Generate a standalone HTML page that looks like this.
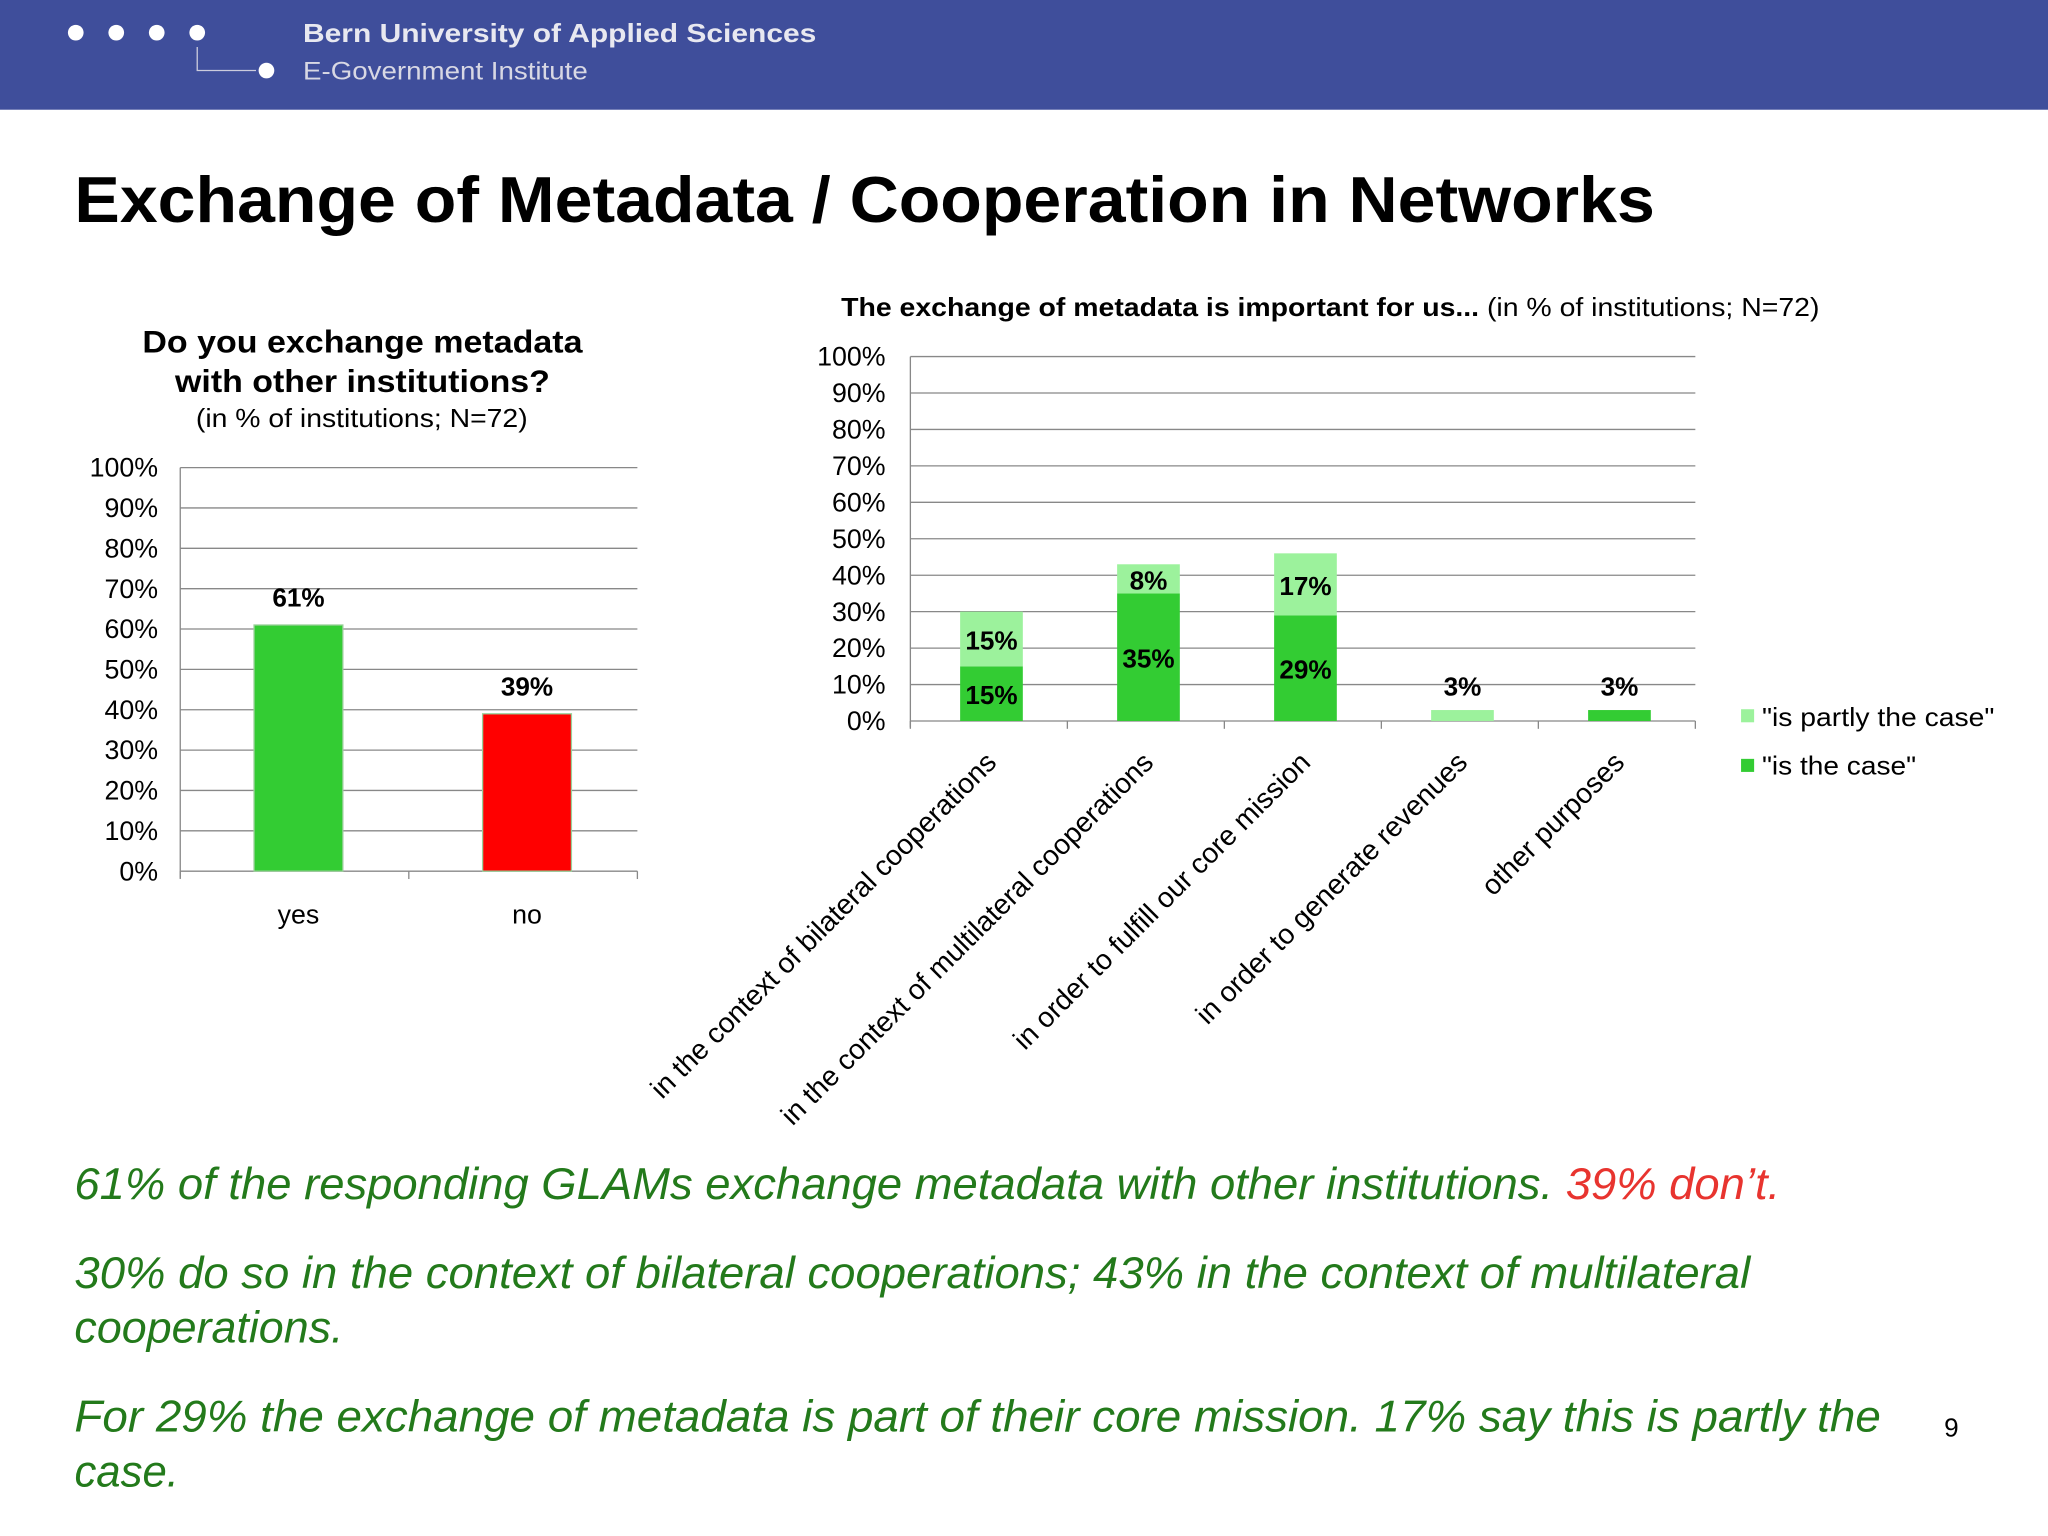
<!DOCTYPE html>
<html><head><meta charset="utf-8"><style>
html,body{margin:0;padding:0;background:#fff}
svg{display:block;font-family:"Liberation Sans",sans-serif}
</style></head><body>
<svg id="s" width="2048" height="1536" viewBox="0 0 1568 1176" xmlns="http://www.w3.org/2000/svg">
<rect x="0" y="0" width="1568" height="84" fill="#3f4e9b"/>
<g fill="#fff">
<circle cx="58" cy="25" r="6"/><circle cx="89" cy="25" r="6"/><circle cx="120" cy="25" r="6"/><circle cx="151" cy="25" r="6"/>
<circle cx="204" cy="54" r="6"/>
<path d="M151 36 V54 H196" stroke="#ccd" stroke-width="1" fill="none"/>
</g>
<text x="232" y="32" fill="#e8e8f0" font-size="20" font-weight="bold" textLength="393" lengthAdjust="spacingAndGlyphs">Bern University of Applied Sciences</text>
<text x="232" y="61" fill="#d8d8e4" font-size="19" textLength="218" lengthAdjust="spacingAndGlyphs">E-Government Institute</text>
<text x="57" y="170" font-size="50" font-weight="bold" fill="#000" textLength="1210" lengthAdjust="spacingAndGlyphs">Exchange of Metadata / Cooperation in Networks</text>

<g id="left">
<text x="109" y="270" font-size="24" font-weight="bold" textLength="337" lengthAdjust="spacingAndGlyphs">Do you exchange metadata</text>
<text x="134" y="300" font-size="24" font-weight="bold" textLength="287" lengthAdjust="spacingAndGlyphs">with other institutions?</text>
<text x="150" y="327" font-size="20" textLength="254" lengthAdjust="spacingAndGlyphs">(in % of institutions; N=72)</text>
</g>
<g id="right">
<text x="644" y="242" font-size="20" textLength="749" lengthAdjust="spacingAndGlyphs"><tspan font-weight="bold">The exchange of metadata is important for us...</tspan> (in % of institutions; N=72)</text>
<rect x="1333" y="543" width="10" height="10" fill="#9cf29c"/>
<text x="1349" y="556" font-size="20" textLength="178" lengthAdjust="spacingAndGlyphs">"is partly the case"</text>
<rect x="1333" y="581" width="10" height="10" fill="#33cc33"/>
<text x="1349" y="593" font-size="20" textLength="118" lengthAdjust="spacingAndGlyphs">"is the case"</text>
</g>

<g font-size="34" font-style="italic" fill="#237a1b">
<text x="57" y="918" textLength="1306" lengthAdjust="spacingAndGlyphs">61% of the responding GLAMs exchange metadata with other institutions. <tspan fill="#e8342f">39% don’t.</tspan></text>
<text x="57" y="986" textLength="1283" lengthAdjust="spacingAndGlyphs">30% do so in the context of bilateral cooperations; 43% in the context of multilateral</text>
<text x="57" y="1028" textLength="206" lengthAdjust="spacingAndGlyphs">cooperations.</text>
<text x="57" y="1096" textLength="1383" lengthAdjust="spacingAndGlyphs">For 29%  the exchange of metadata is part of their core mission. 17% say this is partly the</text>
<text x="57" y="1138" textLength="80" lengthAdjust="spacingAndGlyphs">case.</text>
</g>
<text x="1494" y="1100" text-anchor="middle" font-size="20">9</text>
</svg>
<script>
const NS="http://www.w3.org/2000/svg";
const leftCats=["yes","no"];
const leftVals=[61,39];
const leftColors=["#33cc33","#ff0000"];
const tickVals=[0,10,20,30,40,50,60,70,80,90,100];
const rightCats=["in the context of bilateral cooperations","in the context of multilateral cooperations","in order to fulfill our core mission","in order to generate revenues","other purposes"];
const rightIsCase=[15,35,29,0,3];
const rightPartly=[15,8,17,3,0];

function mk(parent,tag,attrs,text){const e=document.createElementNS(NS,tag);for(const k in attrs)e.setAttribute(k,attrs[k]);if(text!==undefined)e.textContent=text;parent.appendChild(e);return e;}

// left chart
const L=document.getElementById('left');
const ly=v=>667-v*3.09, lx0=138, lx1=488, lband=(lx1-lx0)/leftCats.length;
tickVals.forEach(t=>{
 const g=mk(L,'line',{x1:lx0,x2:lx1,y1:ly(t),y2:ly(t),stroke:'#888','stroke-width':1});
 
 
 const tx=mk(L,'text',{x:121,y:ly(t)+7,'text-anchor':'end','font-size':20.5},t+'%');
 
 
});
mk(L,'line',{x1:lx0,x2:lx0,y1:ly(100),y2:ly(0)+5,stroke:'#888'});
for(let i=0;i<=leftCats.length;i++)mk(L,'line',{x1:lx0+i*lband,x2:lx0+i*lband,y1:ly(0),y2:ly(0)+6,stroke:'#888'});
leftCats.forEach((c,i)=>{
 const cx=lx0+lband*(i+0.5)+3;
 const b=mk(L,'rect',{x:cx-34,y:ly(leftVals[i]),width:68,height:ly(0)-ly(leftVals[i]),fill:leftColors[i],stroke:'#9ad09a','stroke-width':1});
 
 
 const v=mk(L,'text',{x:cx,y:ly(leftVals[i])-14,'text-anchor':'middle','font-size':20,'font-weight':'bold'},leftVals[i]+'%');
 
 
 const cl=mk(L,'text',{x:cx,y:707,'text-anchor':'middle','font-size':20.5},c);
 
 
});

// right chart
const R=document.getElementById('right');
const ry=v=>552-v*2.79, rx0=697, rx1=1298, rband=(rx1-rx0)/rightCats.length;
tickVals.forEach(t=>{
 const g=mk(R,'line',{x1:rx0,x2:rx1,y1:ry(t),y2:ry(t),stroke:'#888','stroke-width':1});
 
 
 const tx=mk(R,'text',{x:678,y:ry(t)+7,'text-anchor':'end','font-size':20.5},t+'%');
 
 
});
mk(R,'line',{x1:rx0,x2:rx0,y1:ry(100),y2:ry(0)+5,stroke:'#888'});
for(let i=0;i<=rightCats.length;i++)mk(R,'line',{x1:rx0+i*rband,x2:rx0+i*rband,y1:ry(0),y2:ry(0)+6,stroke:'#888'});
rightCats.forEach((c,i)=>{
 const cx=rx0+rband*(i+0.5)+2;
 const a=rightIsCase[i], p=rightPartly[i];
 if(a>0){
  const b=mk(R,'rect',{x:cx-24,y:ry(a),width:48,height:ry(0)-ry(a),fill:'#33cc33'});
  
  
 }
 if(p>0){
  const b=mk(R,'rect',{x:cx-24,y:ry(a+p),width:48,height:ry(a)-ry(a+p),fill:'#9cf29c'});
  
  
 }
 const small=(a+p)<8;
 if(a>0){
  const t=mk(R,'text',{x:cx,y:small?ry(a+p)-11:(ry(0)+ry(a))/2+8,'text-anchor':'middle','font-size':20,'font-weight':'bold'},a+'%');
  
  
 }
 if(p>0){
  const t=mk(R,'text',{x:cx,y:small?ry(a+p)-11:(ry(a)+ry(a+p))/2+8,'text-anchor':'middle','font-size':20,'font-weight':'bold'},p+'%');
  
  
 }
 const cl=mk(R,'text',{x:0,y:0,'text-anchor':'end','font-size':21.6,transform:`translate(${cx+5},${585}) rotate(-45)`},c);
 
 
});
</script>
</body></html>
